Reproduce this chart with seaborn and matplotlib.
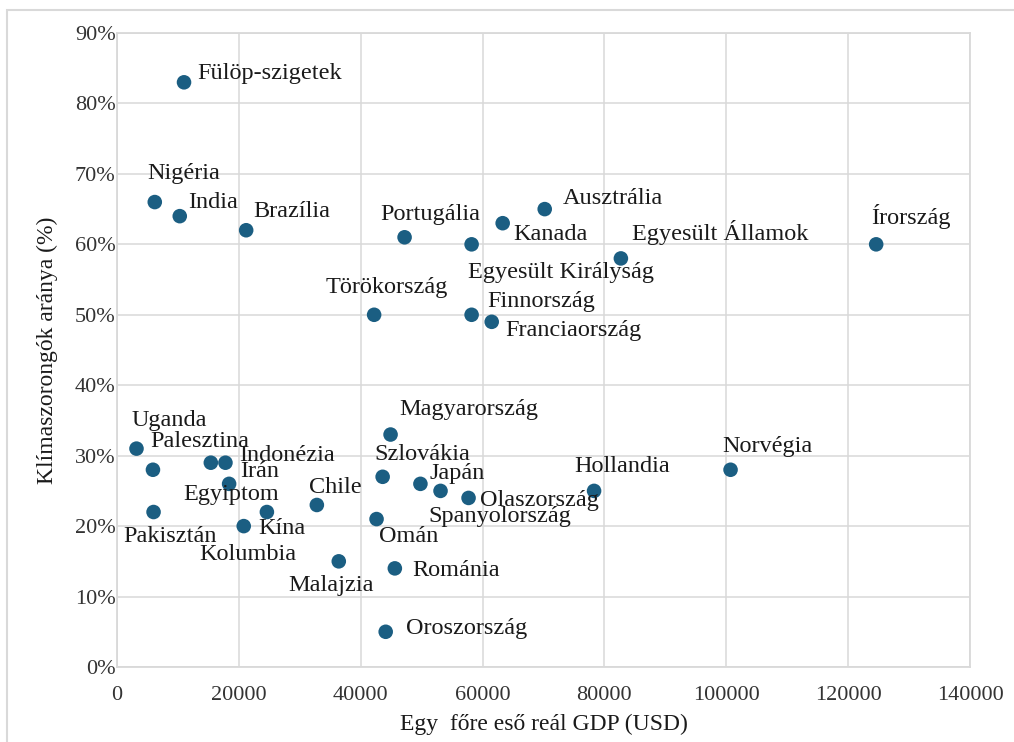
import matplotlib
matplotlib.use("Agg")
import matplotlib.pyplot as plt
from matplotlib.patches import Rectangle
from matplotlib.ticker import FuncFormatter, MultipleLocator
import seaborn as sns
import pandas as pd

# ---- data ----
countries = ["Fülöp-szigetek", "Nigéria", "India", "Brazília", "Portugália",
             "Egyesült Királyság", "Kanada", "Ausztrália", "Egyesült Államok", "Írország",
             "Törökország", "Finnország", "Franciaország", "Uganda", "Palesztina",
             "Pakisztán", "Egyiptom", "Indonézia", "Irán", "Kína", "Kolumbia", "Chile",
             "Malajzia", "Omán", "Szlovákia", "Magyarország", "Románia", "Oroszország",
             "Japán", "Spanyolország", "Olaszország", "Hollandia", "Norvégia"]
gdp = [11000, 6200, 10300, 21200, 47200,
       58200, 63300, 70200, 82700, 124600,
       42200, 58200, 61500, 3200, 5900,
       6000, 15400, 17800, 18400, 20800, 24600, 32800,
       36400, 42600, 43600, 44900, 45600, 44100,
       49800, 53100, 57700, 78300, 100700]
anxiety = [83, 66, 64, 62, 61,
           60, 63, 65, 58, 60,
           50, 50, 49, 31, 28,
           22, 29, 29, 26, 20, 22, 23,
           15, 21, 27, 33, 14, 5,
           26, 25, 24, 25, 28]

# label offsets in pixels (dx, dy up) relative to each point
label_offsets = [(13, 9), (-7, 29), (8, 14), (7, 19), (-24, 23),
                 (-4, -28), (11, -11), (18, 11), (11, 26), (-5, 28),
                 (-49, 27), (16, 13), (14, -9), (-5, 28), (-3, 28),
                 (-30, -24), (-28, -32), (14, 7), (11, 12), (15, -2), (-68, -42), (-8, 17),
                 (-50, -24), (2, -17), (-8, 22), (9, 25), (17, -2), (20, 3),
                 (9, 10), (-12, -26), (11, -3), (-20, 24), (-8, 23)]

x_label = "Egy  főre eső reál GDP (USD)"
y_label = "Klímaszorongók aránya (%)"

df = pd.DataFrame({"country": countries, "gdp": gdp, "anxiety": anxiety})

sns.set_style("white")
plt.rcParams["font.family"] = ["Liberation Serif", "DejaVu Serif"]

W, H = 1014, 742
fig = plt.figure(figsize=(W / 100, H / 100), dpi=100)
left, right, top, bottom = 117, 970, 33, 667
ax = fig.add_axes([left / W, 1 - bottom / H, (right - left) / W, (bottom - top) / H])

grid_c = "#d9d9d9"
sns.scatterplot(data=df, x="gdp", y="anxiety", ax=ax, color="#1b5e82",
                s=110, edgecolor="none", linewidth=0, zorder=3, legend=False)

for name, xv, yv, (dx, dy) in zip(countries, gdp, anxiety, label_offsets):
    ax.annotate(name, (xv, yv), xytext=(dx, dy), textcoords="offset pixels",
                ha="left", va="center", fontsize=17.5, color="#1a1a1a", zorder=4)

ax.set_xlim(0, 140000)
ax.set_ylim(0, 90)
ax.xaxis.set_major_locator(MultipleLocator(20000))
ax.yaxis.set_major_locator(MultipleLocator(10))
ax.yaxis.set_major_formatter(FuncFormatter(lambda v, p: f"{v:.0f}%"))
ax.xaxis.set_major_formatter(FuncFormatter(lambda v, p: f"{v:.0f}"))
ax.grid(True, color=grid_c, linewidth=1.1)
ax.set_axisbelow(True)
for sp in ax.spines.values():
    sp.set_color(grid_c)
    sp.set_linewidth(1.3)
ax.tick_params(axis="both", length=0, labelsize=16, labelcolor="#333333")
ax.tick_params(axis="y", pad=1)
ax.tick_params(axis="x", pad=14)

ax.set_xlabel(x_label, fontsize=17, color="#1a1a1a", labelpad=6)
ax.set_ylabel(y_label, fontsize=17, color="#1a1a1a", labelpad=12)

fig.add_artist(Rectangle((7 / W, -0.1), 1.2, (H - 10) / H + 0.1,
                         transform=fig.transFigure, fill=False,
                         edgecolor=grid_c, linewidth=1.5))

fig.savefig("out.png", dpi=100)
